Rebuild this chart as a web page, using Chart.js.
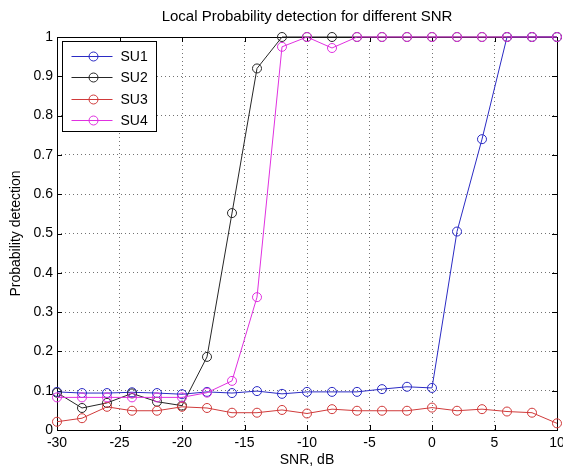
<!DOCTYPE html>
<html>
<head>
<meta charset="utf-8">
<script src="https://cdn.jsdelivr.net/npm/chart.js@4.4.0/dist/chart.umd.min.js"></script>
<style>
  html, body { margin: 0; padding: 0; background: #fff; }
</style>
</head>
<body>
<canvas id="chart" width="563" height="469"></canvas>
<script>
// valeurs (SNR en dB)
const snr = [-30, -28, -26, -24, -22, -20, -18, -16, -14, -12, -10, -8, -6, -4, -2, 0, 2, 4, 6, 8, 10];
const su1 = [0.097, 0.094, 0.094, 0.096, 0.094, 0.091, 0.097, 0.094, 0.099, 0.092, 0.097, 0.097, 0.097, 0.104, 0.110, 0.107, 0.505, 0.740, 1, 1, 1];
const su2 = [0.095, 0.056, 0.069, 0.093, 0.072, 0.062, 0.186, 0.552, 0.920, 1, 1, 1, 1, 1, 1, 1, 1, 1, 1, 1, 1];
const su3 = [0.021, 0.030, 0.059, 0.049, 0.049, 0.059, 0.056, 0.044, 0.044, 0.051, 0.042, 0.053, 0.049, 0.049, 0.049, 0.057, 0.049, 0.053, 0.047, 0.044, 0.017];
const su4 = [0.083, 0.083, 0.083, 0.083, 0.083, 0.083, 0.095, 0.125, 0.338, 0.975, 1, 0.972, 1, 1, 1, 1, 1, 1, 1, 1, 1];

const seriesNames = ['SU1', 'SU2', 'SU3', 'SU4'];
const seriesColors = ['#2b2bc4', '#262626', '#d03a3a', '#e030e0'];
const xTicks = [-30, -25, -20, -15, -10, -5, 0, 5, 10];
const chartTitle = 'Local Probability detection for different SNR';

const fontFamily = "'Liberation Sans', Arial, sans-serif";
const fontSize = 14;

function makeDataset(i, values) {
  return {
    label: seriesNames[i],
    data: snr.map((x, k) => ({ x: x, y: values[k] })),
    borderColor: seriesColors[i],
    borderWidth: 1,
    pointRadius: 4.5,
    pointHoverRadius: 4.5,
    pointBorderWidth: 1,
    pointBorderColor: seriesColors[i],
    pointBackgroundColor: 'rgba(0,0,0,0)',
    tension: 0,
    clip: false,
    order: 3 - i
  };
}

// cadre + petites graduations vers l'intérieur, façon matlab
const boxTicks = {
  id: 'boxTicks',
  beforeDatasetsDraw(chart) {
    const { ctx, chartArea: a, scales } = chart;
    const L = 5;
    ctx.save();
    ctx.strokeStyle = '#000';
    ctx.lineWidth = 1;
    ctx.beginPath();
    scales.x.ticks.forEach(t => {
      const px = Math.round(scales.x.getPixelForValue(t.value)) + 0.5;
      ctx.moveTo(px, a.bottom); ctx.lineTo(px, a.bottom - L);
      ctx.moveTo(px, a.top); ctx.lineTo(px, a.top + L);
    });
    scales.y.ticks.forEach(t => {
      const py = Math.round(scales.y.getPixelForValue(t.value)) + 0.5;
      ctx.moveTo(a.left, py); ctx.lineTo(a.left + L, py);
      ctx.moveTo(a.right, py); ctx.lineTo(a.right - L, py);
    });
    ctx.stroke();
    ctx.strokeRect(Math.round(a.left) + 0.5, Math.round(a.top) + 0.5,
      Math.round(a.right - a.left), Math.round(a.bottom - a.top));
    ctx.restore();
  }
};

// titre centré sur la zone de tracé (comme matlab)
const plotTitle = {
  id: 'plotTitle',
  afterDraw(chart) {
    const { ctx, chartArea: a } = chart;
    ctx.save();
    ctx.font = '15px ' + fontFamily;
    ctx.fillStyle = '#000';
    ctx.textAlign = 'center';
    ctx.textBaseline = 'middle';
    ctx.fillText(chartTitle, (a.left + a.right) / 2, 17);
    ctx.restore();
  }
};

// légende encadrée en haut à gauche
const legendBox = {
  id: 'legendBox',
  afterDraw(chart) {
    const { ctx, chartArea: a } = chart;
    const x0 = Math.round(a.left) + 5.5, y0 = Math.round(a.top) + 4.5;
    const w = 94, h = 90;
    ctx.save();
    ctx.fillStyle = '#fff';
    ctx.fillRect(x0, y0, w, h);
    ctx.strokeStyle = '#000';
    ctx.lineWidth = 1;
    ctx.strokeRect(x0, y0, w, h);
    ctx.font = fontSize + 'px ' + fontFamily;
    ctx.textBaseline = 'middle';
    chart.data.datasets.forEach((ds, i) => {
      const y = Math.round(y0 + 14 + i * 21.5) + 0.5;
      ctx.strokeStyle = ds.borderColor;
      ctx.beginPath();
      ctx.moveTo(x0 + 9, y); ctx.lineTo(x0 + 50, y);
      ctx.stroke();
      ctx.beginPath();
      ctx.arc(x0 + 31, y, 4.5, 0, Math.PI * 2);
      ctx.stroke();
      ctx.fillStyle = '#000';
      ctx.fillText(ds.label, x0 + 58, y + 1);
    });
    ctx.restore();
  }
};

new Chart(document.getElementById('chart'), {
  type: 'line',
  data: {
    datasets: [makeDataset(0, su1), makeDataset(1, su2), makeDataset(2, su3), makeDataset(3, su4)]
  },
  options: {
    responsive: false,
    animation: false,
    events: [],
    layout: { padding: { left: 0, right: 6, top: 37, bottom: 0 } },
    plugins: {
      legend: { display: false },
      tooltip: { enabled: false },
      title: { display: false }
    },
    scales: {
      x: {
        type: 'linear',
        min: -30,
        max: 10,
        afterBuildTicks: scale => { scale.ticks = xTicks.map(v => ({ value: v })); },
        ticks: { color: '#000', font: { family: fontFamily, size: fontSize }, padding: 5, maxRotation: 0 },
        grid: { color: 'rgba(0,0,0,0.55)', drawTicks: false, lineWidth: 1 },
        border: { display: false, dash: [1, 3] },
        title: {
          display: true,
          text: 'SNR, dB',
          color: '#000',
          font: { family: fontFamily, size: fontSize },
          padding: { top: 0, bottom: 0 }
        },
        afterFit: scale => { scale.height = 39; scale.paddingLeft = 0; scale.paddingRight = 0; }
      },
      y: {
        min: 0,
        max: 1,
        ticks: {
          stepSize: 0.1,
          color: '#000',
          font: { family: fontFamily, size: fontSize },
          padding: 4,
          callback: v => String(Number(v.toFixed(1)))
        },
        grid: { color: 'rgba(0,0,0,0.55)', drawTicks: false, lineWidth: 1 },
        border: { display: false, dash: [1, 3] },
        title: {
          display: true,
          text: 'Probability detection',
          color: '#000',
          font: { family: fontFamily, size: fontSize },
          padding: { top: 8, bottom: 0 }
        },
        afterFit: scale => { scale.width = 57; scale.paddingTop = 0; scale.paddingBottom = 0; }
      }
    }
  },
  plugins: [boxTicks, plotTitle, legendBox]
});
</script>
</body>
</html>
